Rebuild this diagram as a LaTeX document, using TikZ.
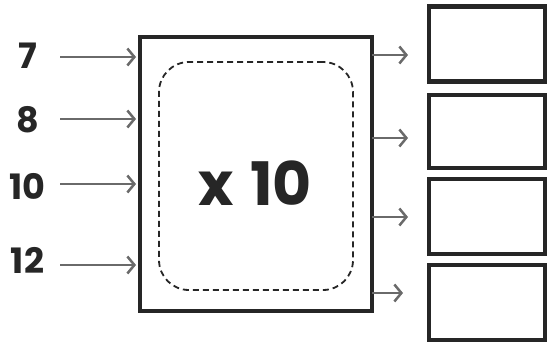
\documentclass[tikz,border=0pt]{standalone}
\usepackage{fontspec}
\setmainfont{Poppins}[BoldFont=* Bold]
\usetikzlibrary{arrows.meta}
\definecolor{ink}{HTML}{262626}
\definecolor{arrowgray}{HTML}{6a6a6a}
\tikzset{
  boxline/.style={draw=ink, line width=4.5pt, fill=white, inner sep=0pt, outer sep=0pt},
  dashbox/.style={draw=ink, line width=1.8pt, dash pattern=on 6pt off 4pt, rounded corners=30pt, inner sep=0pt, minimum width=194pt, minimum height=228pt},
  numlabel/.style={text=ink, font=\fontsize{35}{35}\selectfont\bfseries, inner sep=0pt},
  bigtext/.style={text=ink, font=\fontsize{60}{60}\selectfont\bfseries, inner sep=0pt},
  conn/.style={draw=arrowgray, line width=2.5pt, -{Straight Barb[length=7pt,width=17pt,line width=2.5pt]}},
}
\begin{document}
\begin{tikzpicture}[x=1pt,y=-1pt]
\useasboundingbox (0,0) rectangle (547,343);
\node[boxline, minimum width=232pt, minimum height=274pt] (M) at (256,174) {};
\node[dashbox] (D) at (256,176) {};
\node[bigtext] (X) at (255,183) {x\hspace{0.28em}10};
\node[boxline, minimum width=116pt, minimum height=75pt] (R1) at (487,44) {};
\node[boxline, minimum width=116pt, minimum height=73pt] (R2) at (487,131.5) {};
\node[boxline, minimum width=116pt, minimum height=75pt] (R3) at (487,216.5) {};
\node[boxline, minimum width=116pt, minimum height=75pt] (R4) at (487,302.5) {};
\node[numlabel] (L1) at (27.5,55.5) {7};
\node[numlabel] (L2) at (27.5,120) {8};
\node[numlabel] (L3) at (27.5,186) {10};
\node[numlabel] (L4) at (27.5,260) {12};
\coordinate (a1) at (60,57);
\coordinate (a2) at (60,119);
\coordinate (a3) at (60,184);
\coordinate (a4) at (60,265);
\draw[conn, shorten >=4pt] (a1) -- (a1 -| M.west);
\draw[conn, shorten >=4pt] (a2) -- (a2 -| M.west);
\draw[conn, shorten >=4pt] (a3) -- (a3 -| M.west);
\draw[conn, shorten >=4pt] (a4) -- (a4 -| M.west);
\coordinate (b1) at (408,55);
\coordinate (b2) at (408,138);
\coordinate (b3) at (408,217);
\coordinate (b4) at (403,293);
\draw[conn] (b1 -| M.east) -- (b1);
\draw[conn] (b2 -| M.east) -- (b2);
\draw[conn] (b3 -| M.east) -- (b3);
\draw[conn] (b4 -| M.east) -- (b4);
\end{tikzpicture}
\end{document}
